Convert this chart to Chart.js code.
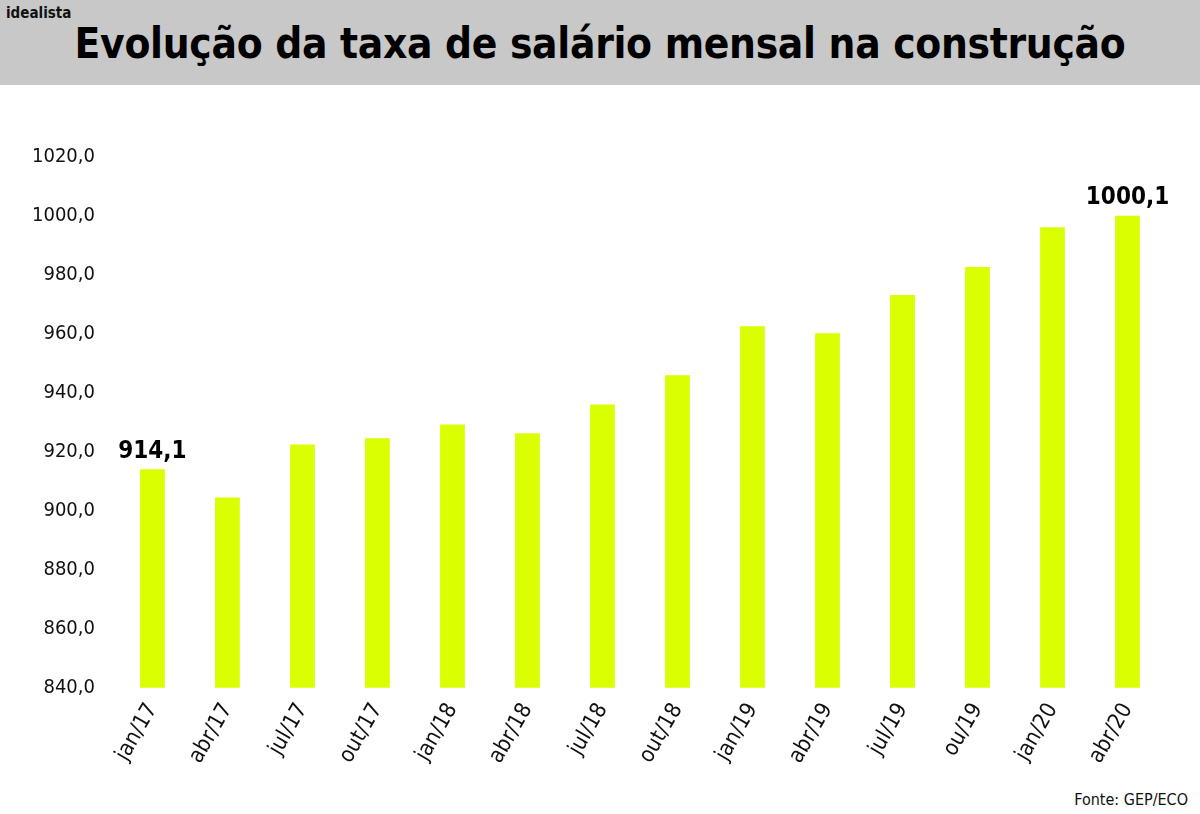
<!DOCTYPE html>
<html><head><meta charset="utf-8">
<script src="https://cdn.jsdelivr.net/npm/chart.js@4"></script>
<style>
body{margin:0;width:1200px;height:814px;background:#fff;font-family:"DejaVu Sans Condensed","DejaVu Sans",sans-serif;position:relative;overflow:hidden}
#hdr{position:absolute;left:0;top:0;width:1200px;height:85px;background:#c8c8c8}
#logo{position:absolute;left:6px;top:4px;font-size:15px;font-weight:bold;color:#111}
#title{position:absolute;left:0;top:19px;width:1200px;text-align:center;font-size:42px;font-weight:bold;color:#000;letter-spacing:-0.3px}
#src{position:absolute;right:12px;top:790px;font-size:16px;color:#111}
#wrap{position:absolute;left:0;top:110px;width:1200px;height:680px}
</style></head><body>
<div id="hdr"><div id="logo">idealista</div><div id="title">Evolução da taxa de salário mensal na construção</div></div>
<div id="wrap"><canvas id="c" width="1200" height="661"></canvas></div>
<div id="src">Fonte: GEP/ECO</div>
<script>
const categories=["jan/17","abr/17","jul/17","out/17","jan/18","abr/18","jul/18","out/18","jan/19","abr/19","jul/19","ou/19","jan/20","abr/20"];
const values=[914.1,904.5,922.5,924.6,929.3,926.3,936.1,946.0,962.6,960.2,973.2,982.7,996.2,1000.1];
const shownLabels={0:"914,1",13:"1000,1"};
const lbl={id:"lbl",afterDatasetsDraw(ch){const ctx=ch.ctx;const m=ch.getDatasetMeta(0);ctx.save();ctx.font="bold 24px 'DejaVu Sans Condensed'";ctx.fillStyle="#000";ctx.textAlign="center";ctx.textBaseline="bottom";
for(const k in shownLabels){const e=m.data[k];ctx.fillText(shownLabels[k],e.x,e.y-6);}ctx.restore();}};
new Chart(document.getElementById("c"),{type:"bar",data:{labels:categories,datasets:[{data:values,backgroundColor:"#d9ff00",barPercentage:0.33,categoryPercentage:1}]},
options:{responsive:false,animation:false,devicePixelRatio:1,layout:{padding:{left:20,right:35,top:47}},
plugins:{legend:{display:false},tooltip:{enabled:false}},
scales:{y:{min:840,max:1020,ticks:{stepSize:20,color:"#111",font:{size:20,family:"DejaVu Sans Condensed"},callback:v=>v.toFixed(1).replace(".",","),padding:12},grid:{display:false},border:{display:false}},
x:{ticks:{autoSkip:false,color:"#111",font:{size:22,family:"DejaVu Sans Condensed"},maxRotation:60,minRotation:60},grid:{display:false},border:{display:false}}}},
plugins:[lbl]});
</script>
</body></html>
